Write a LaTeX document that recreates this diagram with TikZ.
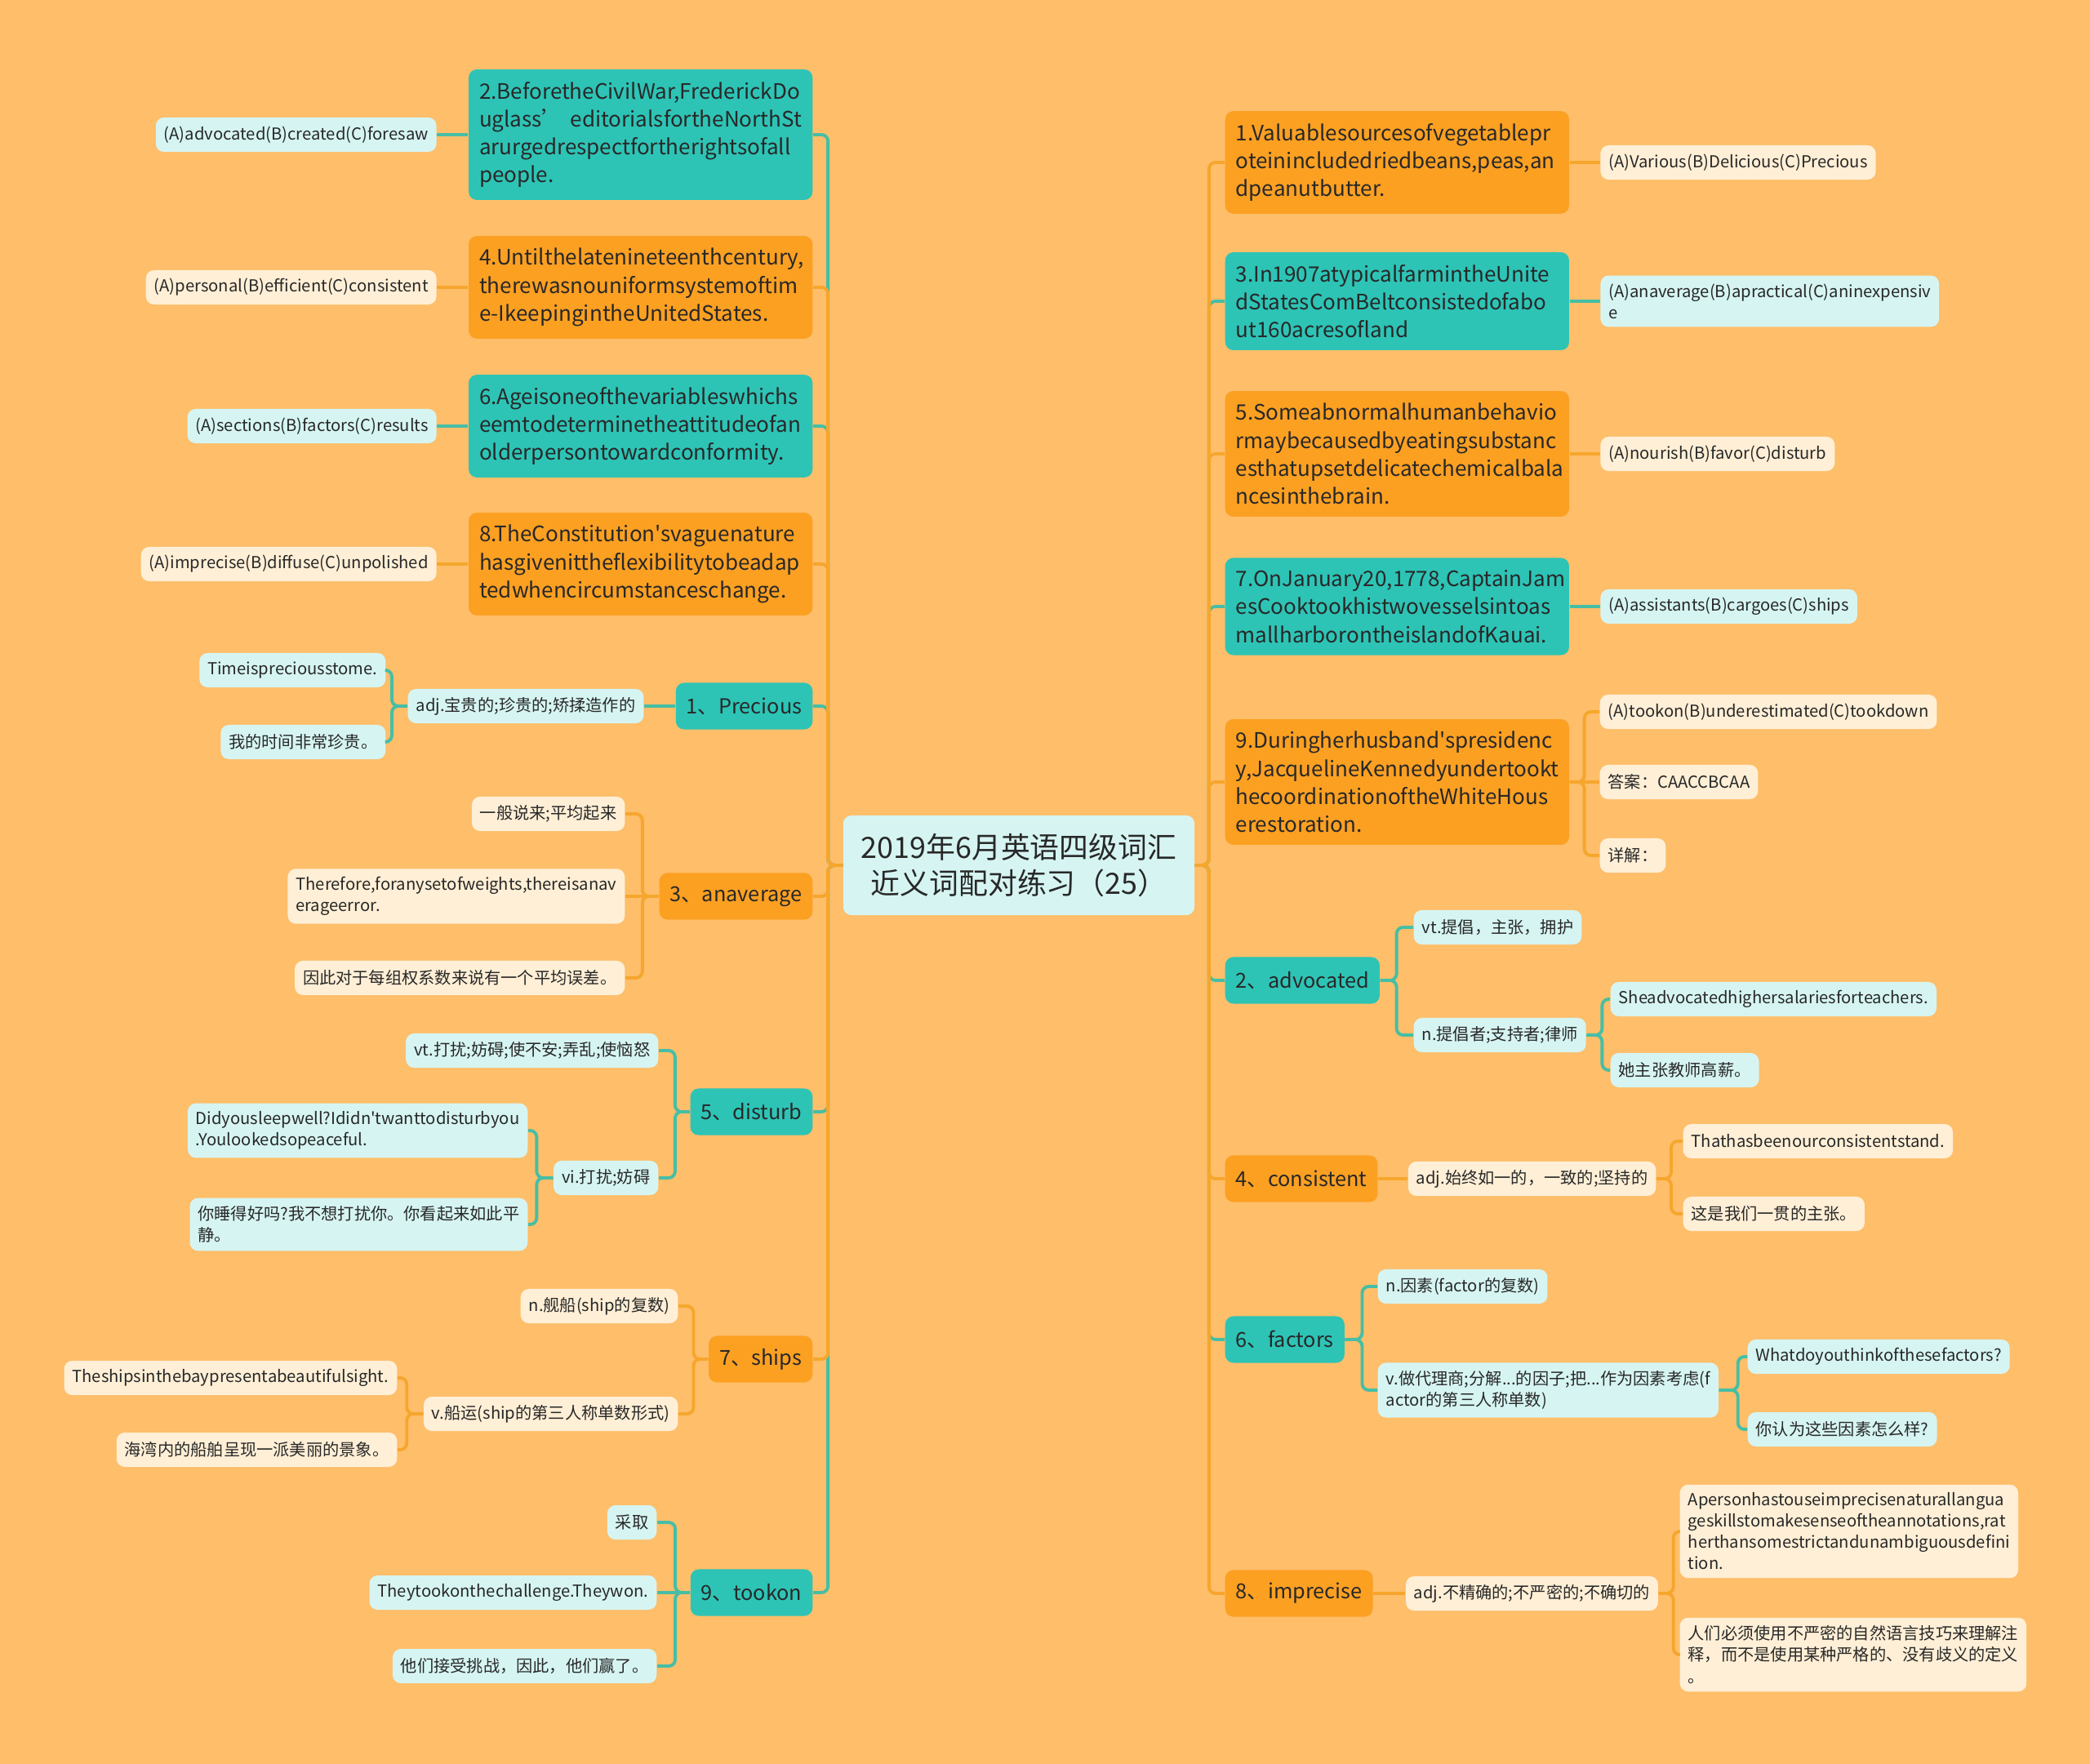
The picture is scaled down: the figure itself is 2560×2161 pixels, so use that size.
\documentclass[tikz,border=0pt]{standalone}
\usepackage{fontspec}
\newfontfamily\cjkf{Noto Sans CJK SC}
\usetikzlibrary{positioning}
\definecolor{bgc}{RGB}{254,190,106}
\definecolor{tealc}{RGB}{45,196,182}
\definecolor{orc}{RGB}{252,160,34}
\definecolor{cyanc}{RGB}{214,245,242}
\definecolor{creamc}{RGB}{255,239,214}
\definecolor{teall}{RGB}{70,190,165}
\definecolor{orl}{RGB}{246,166,45}
\definecolor{txt}{RGB}{40,40,40}
\tikzset{
  box/.style={rounded corners=0.1cm, text=txt, align=left, inner xsep=0.13cm, inner ysep=0.15cm},
  qbox/.style={box, text width=3.95cm, font=\cjkf\fontsize{7.4}{9.75}\selectfont},
  wbox/.style={box, inner ysep=0.1cm, minimum height=0.57cm, font=\cjkf\fontsize{7.2}{9.75}\selectfont},
  leaf/.style={box, inner xsep=0.1cm, inner ysep=0.1cm, minimum height=0.42cm, font=\cjkf\fontsize{5.75}{7.4}\selectfont},
  tq/.style={qbox, fill=tealc}, oq/.style={qbox, fill=orc},
  tw/.style={wbox, fill=tealc}, ow/.style={wbox, fill=orc},
  tleaf/.style={leaf, fill=cyanc}, oleaf/.style={leaf, fill=creamc},
  tline/.style={draw=teall, line width=1.1pt, rounded corners=0.08cm},
  oline/.style={draw=orl, line width=1.1pt, rounded corners=0.08cm}
}
\begin{document}
\begin{tikzpicture}[x=0.01cm, y=-0.01cm]
\fill[bgc] (0,0) rectangle (2560,2161);
\useasboundingbox (0,0) rectangle (2560,2161);
\node[box, fill=cyanc, minimum width=4.3cm, minimum height=1.22cm, align=center, font=\cjkf\fontsize{10.2}{12.5}\selectfont] (c) at (1248,1060) {2019年6月英语四级词汇\\近义词配对练习（25）};
% left side
\node[tq, anchor=east] (q2) at (996,165) {2.BeforetheCivilWar,FrederickDo\\uglass’ editorialsfortheNorthSt\\arurgedrespectfortherightsofall\\people.};
\node[tleaf, left=0.38cm of q2] (q2a) {(A)advocated(B)created(C)foresaw};
\node[oq, anchor=east] (q4) at (996,352) {4.Untilthelatenineteenthcentury,\\therewasnouniformsystemoftim\\e-IkeepingintheUnitedStates.};
\node[oleaf, left=0.38cm of q4] (q4a) {(A)personal(B)efficient(C)consistent};
\node[tq, anchor=east] (q6) at (996,522) {6.Ageisoneofthevariableswhichs\\eemtodeterminetheattitudeofan\\olderpersontowardconformity.};
\node[tleaf, left=0.38cm of q6] (q6a) {(A)sections(B)factors(C)results};
\node[oq, anchor=east] (q8) at (996,691) {8.TheConstitution'svaguenature\\hasgivenittheflexibilitytobeadap\\tedwhencircumstanceschange.};
\node[oleaf, left=0.38cm of q8] (q8a) {(A)imprecise(B)diffuse(C)unpolished};
\node[tw, anchor=east] (w1) at (996,865) {1、Precious};
\node[tleaf, left=0.38cm of w1] (w1a) {adj.宝贵的;珍贵的;矫揉造作的};
\node[tleaf, anchor=east] (w1b) at (473,821) {Timeispreciousstome.};
\node[tleaf, anchor=east] (w1c) at (473,909) {我的时间非常珍贵。};
\node[ow, anchor=east] (w3) at (996,1098) {3、anaverage};
\node[oleaf, anchor=east] (w3a) at (766,997) {一般说来;平均起来};
\node[oleaf, anchor=east] (w3b) at (766,1098) {Therefore,foranysetofweights,thereisanav\\erageerror.};
\node[oleaf, anchor=east] (w3c) at (766,1198) {因此对于每组权系数来说有一个平均误差。};
\node[tw, anchor=east] (w5) at (996,1362) {5、disturb};
\node[tleaf, anchor=east] (w5a) at (807,1287) {vt.打扰;妨碍;使不安;弄乱;使恼怒};
\node[tleaf, anchor=east] (w5b) at (807,1443) {vi.打扰;妨碍};
\node[tleaf, anchor=east] (w5c) at (647,1385) {Didyousleepwell?Ididn'twanttodisturbyou\\.Youlookedsopeaceful.};
\node[tleaf, anchor=east] (w5d) at (647,1500) {你睡得好吗?我不想打扰你。你看起来如此平\\静。};
\node[ow, anchor=east] (w7) at (996,1665) {7、ships};
\node[oleaf, anchor=east] (w7a) at (831,1600) {n.舰船(ship的复数)};
\node[oleaf, anchor=east] (w7b) at (831,1732) {v.船运(ship的第三人称单数形式)};
\node[oleaf, anchor=east] (w7c) at (487,1688) {Theshipsinthebaypresentabeautifulsight.};
\node[oleaf, anchor=east] (w7d) at (487,1776) {海湾内的船舶呈现一派美丽的景象。};
\node[tw, anchor=east] (w9) at (996,1951) {9、tookon};
\node[tleaf, anchor=east] (w9a) at (805,1865) {采取};
\node[tleaf, anchor=east] (w9b) at (805,1951) {Theytookonthechallenge.Theywon.};
\node[tleaf, anchor=east] (w9c) at (805,2041) {他们接受挑战，因此，他们赢了。};
% right side
\node[oq, anchor=west] (q1) at (1500,199) {1.Valuablesourcesofvegetablepr\\oteinincludedriedbeans,peas,an\\dpeanutbutter.};
\node[oleaf, right=0.37cm of q1] (q1a) {(A)Various(B)Delicious(C)Precious};
\node[tq, anchor=west] (q3) at (1500,369) {3.In1907atypicalfarmintheUnite\\dStatesComBeltconsistedofabo\\ut160acresofland};
\node[tleaf, right=0.37cm of q3] (q3a) {(A)anaverage(B)apractical(C)aninexpensiv\\e};
\node[oq, anchor=west] (q5) at (1500,556) {5.Someabnormalhumanbehavio\\rmaybecausedbyeatingsubstanc\\esthatupsetdelicatechemicalbala\\ncesinthebrain.};
\node[oleaf, right=0.37cm of q5] (q5a) {(A)nourish(B)favor(C)disturb};
\node[tq, anchor=west] (q7) at (1500,743) {7.OnJanuary20,1778,CaptainJam\\esCooktookhistwovesselsintoas\\mallharborontheislandofKauai.};
\node[tleaf, right=0.37cm of q7] (q7a) {(A)assistants(B)cargoes(C)ships};
\node[oq, anchor=west] (q9) at (1500,958) {9.Duringherhusband'spresidenc\\y,JacquelineKennedyundertookt\\hecoordinationoftheWhiteHous\\erestoration.};
\node[oleaf, anchor=west] (q9a) at (1959,872) {(A)tookon(B)underestimated(C)tookdown};
\node[oleaf, anchor=west] (q9b) at (1959,958) {答案：CAACCBCAA};
\node[oleaf, anchor=west] (q9c) at (1959,1048) {详解：};
\node[tw, anchor=west] (w2) at (1500,1201) {2、advocated};
\node[tleaf, anchor=west] (w2a) at (1731,1136) {vt.提倡，主张，拥护};
\node[tleaf, anchor=west] (w2b) at (1731,1268) {n.提倡者;支持者;律师};
\node[tleaf, anchor=west] (w2c) at (1972,1224) {Sheadvocatedhighersalariesforteachers.};
\node[tleaf, anchor=west] (w2d) at (1972,1311) {她主张教师高薪。};
\node[ow, anchor=west] (w4) at (1500,1444) {4、consistent};
\node[oleaf, right=0.36cm of w4] (w4a) {adj.始终如一的，一致的;坚持的};
\node[oleaf, anchor=west] (w4b) at (2061,1398) {Thathasbeenourconsistentstand.};
\node[oleaf, anchor=west] (w4c) at (2061,1487) {这是我们一贯的主张。};
\node[tw, anchor=west] (w6) at (1500,1641) {6、factors};
\node[tleaf, anchor=west] (w6a) at (1687,1576) {n.因素(factor的复数)};
\node[tleaf, anchor=west] (w6b) at (1687,1703) {v.做代理商;分解...的因子;把...作为因素考虑(f\\actor的第三人称单数)};
\node[tleaf, anchor=west] (w6c) at (2140,1662) {Whatdoyouthinkofthesefactors?};
\node[tleaf, anchor=west] (w6d) at (2140,1751) {你认为这些因素怎么样?};
\node[ow, anchor=west] (w8) at (1500,1952) {8、imprecise};
\node[oleaf, right=0.39cm of w8] (w8a) {adj.不精确的;不严密的;不确切的};
\node[oleaf, anchor=west] (w8b) at (2057,1876) {Apersonhastouseimprecisenaturallangua\\geskillstomakesenseoftheannotations,rat\\herthansomestrictandunambiguousdefini\\tion.};
\node[oleaf, anchor=west] (w8c) at (2057,2027) {人们必须使用不严密的自然语言技巧来理解注\\释，而不是使用某种严格的、没有歧义的定义\\。};
% connectors
\foreach \n in {q2,q6,w1,w5,w9} \draw[tline] (c.west) -- ++(-18,0) |- (\n.east);
\foreach \n in {q4,q8,w3,w7} \draw[oline] (c.west) -- ++(-18,0) |- (\n.east);
\foreach \n in {q3,q7,w2,w6} \draw[tline] (c.east) -- ++(17,0) |- (\n.west);
\foreach \n in {q1,q5,q9,w4,w8} \draw[oline] (c.east) -- ++(17,0) |- (\n.west);
\draw[tline] (q2.west) -- (q2a.east);
\draw[oline] (q4.west) -- (q4a.east);
\draw[tline] (q6.west) -- (q6a.east);
\draw[oline] (q8.west) -- (q8a.east);
\draw[tline] (w1.west) -- (w1a.east);
\foreach \n in {w1b,w1c} \draw[tline] (w1a.west) -- ++(-19,0) |- (\n.east);
\draw[oline] (w3.west) -- (w3b.east);
\foreach \n in {w3a,w3c} \draw[oline] (w3.west) -- ++(-20,0) |- (\n.east);
\foreach \n in {w5a,w5b} \draw[tline] (w5.west) -- ++(-18,0) |- (\n.east);
\foreach \n in {w5c,w5d} \draw[tline] (w5b.west) -- ++(-20,0) |- (\n.east);
\foreach \n in {w7a,w7b} \draw[oline] (w7.west) -- ++(-18,0) |- (\n.east);
\foreach \n in {w7c,w7d} \draw[oline] (w7b.west) -- ++(-20,0) |- (\n.east);
\draw[tline] (w9.west) -- (w9b.east);
\foreach \n in {w9a,w9c} \draw[tline] (w9.west) -- ++(-18,0) |- (\n.east);
\draw[oline] (q1.east) -- (q1a.west);
\draw[tline] (q3.east) -- (q3a.west);
\draw[oline] (q5.east) -- (q5a.west);
\draw[tline] (q7.east) -- (q7a.west);
\draw[oline] (q9.east) -- (q9b.west);
\foreach \n in {q9a,q9c} \draw[oline] (q9.east) -- ++(18,0) |- (\n.west);
\foreach \n in {w2a,w2b} \draw[tline] (w2.east) -- ++(20,0) |- (\n.west);
\foreach \n in {w2c,w2d} \draw[tline] (w2b.east) -- ++(19,0) |- (\n.west);
\draw[oline] (w4.east) -- (w4a.west);
\foreach \n in {w4b,w4c} \draw[oline] (w4a.east) -- ++(18,0) |- (\n.west);
\foreach \n in {w6a,w6b} \draw[tline] (w6.east) -- ++(21,0) |- (\n.west);
\foreach \n in {w6c,w6d} \draw[tline] (w6b.east) -- ++(23,0) |- (\n.west);
\draw[oline] (w8.east) -- (w8a.west);
\foreach \n in {w8b,w8c} \draw[oline] (w8a.east) -- ++(18,0) |- (\n.west);
\end{tikzpicture}
\end{document}
